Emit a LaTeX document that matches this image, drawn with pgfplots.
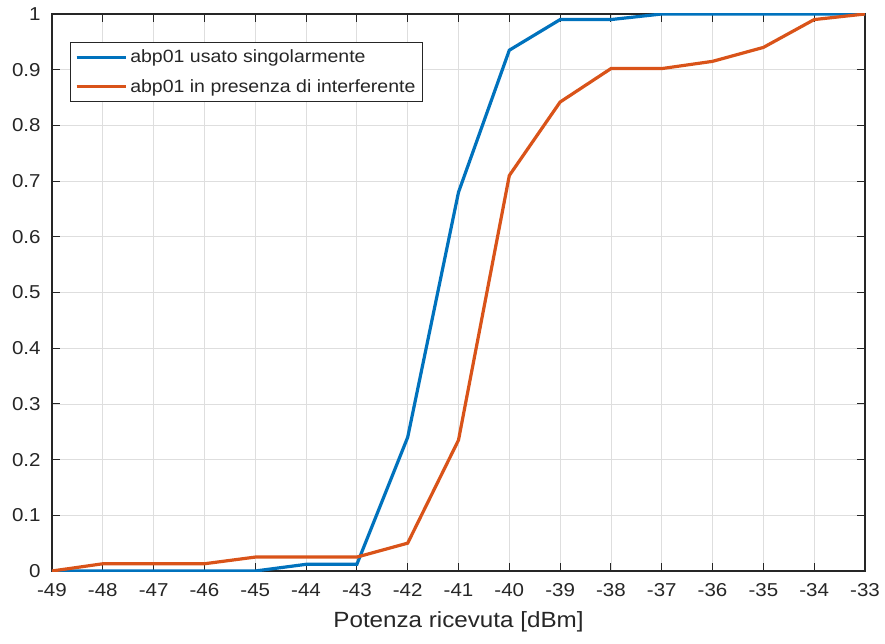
\documentclass[border=0pt]{standalone}
\usepackage{pgfplots}
\pgfplotsset{compat=1.18}
\usepackage{fontspec}
\setmainfont{Liberation Sans}[FakeStretch=1.1]
\definecolor{mblue}{RGB}{0,114,189}
\definecolor{morange}{RGB}{217,83,25}
\definecolor{mgray}{RGB}{38,38,38}
\begin{document}
\begin{tikzpicture}
\begin{axis}[
  scale only axis,
  width=609.75pt, height=417.75pt,
  xmin=-49, xmax=-33, ymin=0, ymax=1,
  xtick={-49,...,-33},
  ytick={0,0.1,...,1},
  /pgf/number format/assume math mode=true,
  /pgf/number format/fixed,
  xticklabels={-49,-48,-47,-46,-45,-44,-43,-42,-41,-40,-39,-38,-37,-36,-35,-34,-33},
  tick label style={font=\fontsize{14}{16}\selectfont, text=mgray},
  yticklabel style={xshift=-5pt},
  xticklabel style={yshift=-6pt},
  xlabel={Potenza ricevuta [dBm]},
  xlabel style={font=\fontsize{16.5}{18}\selectfont, text=mgray, yshift=-4pt},
  grid=major,
  grid style={black!13, line width=0.6pt},
  tick align=inside,
  major tick length=6pt,
  axis line style={mgray, line width=0.8pt},
  tick style={mgray, line width=0.8pt},
  legend style={at={(0.0221,0.9497)}, anchor=north west, font=\fontsize{13.3}{15}\selectfont, draw=mgray, line width=0.7pt, inner sep=3.5pt, row sep=7pt, text=mgray},
  legend cell align=left,
  legend image code/.code={\draw[#1, line width=2.4pt] (0cm,0cm) -- (1.3cm,0cm);},
]
\addplot[mblue, line width=2.4pt] coordinates {
(-49,0) (-48,0) (-47,0) (-46,0) (-45,0) (-44,0.012) (-43,0.012) (-42,0.24) (-41,0.68) (-40,0.935) (-39,0.99) (-38,0.99) (-37,1) (-36,1) (-35,1) (-34,1) (-33,1)};
\addlegendentry{abp01 usato singolarmente}
\addplot[morange, line width=2.4pt] coordinates {
(-49,0) (-48,0.013) (-47,0.013) (-46,0.013) (-45,0.025) (-44,0.025) (-43,0.025) (-42,0.05) (-41,0.235) (-40,0.71) (-39,0.842) (-38,0.902) (-37,0.902) (-36,0.915) (-35,0.94) (-34,0.99) (-33,1)};
\addlegendentry{abp01 in presenza di interferente}
\end{axis}
\path (current axis.south west) ++(-39pt,-54pt) (current axis.north east) ++(15pt,10.5pt);
\end{tikzpicture}
\end{document}
